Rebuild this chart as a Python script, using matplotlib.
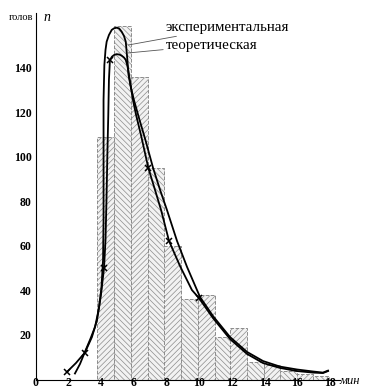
import numpy as np
import matplotlib
matplotlib.use("Agg")
import matplotlib.pyplot as plt

plt.rcParams['font.family'] = ['Liberation Serif', 'DejaVu Serif']
plt.rcParams['hatch.linewidth'] = 0.5

# гистограмма: границы интервалов (мин) и число голов
bin_edges = [3.75, 4.8, 5.8, 6.85, 7.85, 8.9, 9.9, 10.95, 11.9, 12.9, 13.95,
             14.95, 15.95, 16.95, 17.95]
bin_counts = [109, 159, 136, 95, 60, 36, 38, 19, 23, 8, 6.5, 4, 2.5, 1.5]

# экспериментальная кривая
exp_x = [2.39, 2.70, 3.00, 3.31, 3.62, 3.86, 4.01, 4.11, 4.14, 4.14, 4.14, 4.14,
         4.19, 4.26, 4.33, 4.47, 4.64, 4.78, 4.94, 5.09, 5.25, 5.39, 5.50, 5.59,
         5.67, 5.82, 6.00, 6.31, 6.74, 7.17, 7.60, 8.02, 8.64, 9.25, 9.86, 10.05,
         10.84, 11.88, 12.92, 13.90, 14.94, 15.98, 16.96, 17.57, 17.88]
exp_n = [2.7, 7.0, 12.4, 17.8, 23.6, 32.1, 41.1, 53.7, 71.7, 89.7, 107.6, 125.6,
         141.3, 148.1, 151.8, 154.8, 157.1, 157.8, 158.1, 157.8, 156.3, 154.4, 151.8, 144.4,
         136.9, 131.0, 125.6, 117.5, 106.7, 95.1, 85.2, 76.2, 62.2, 50.6, 40.2, 37.0,
         28.5, 19.1, 12.4, 8.3, 5.8, 4.5, 3.6, 3.1, 4.0]

# теоретическая кривая
theo_x = [1.90, 2.45, 3.00, 3.43, 3.74, 3.98, 4.17, 4.26, 4.32, 4.38, 4.43, 4.47,
          4.53, 4.66, 4.78, 4.94, 5.12, 5.25, 5.39, 5.50, 5.59, 5.65, 5.76, 5.96,
          6.13, 6.43, 6.88, 7.29, 7.66, 8.15, 8.82, 9.55, 9.98, 10.84, 11.88, 12.92,
          13.90, 14.94, 15.98, 16.96, 17.57, 17.88]
theo_n = [3.4, 7.4, 12.1, 19.1, 26.7, 38.0, 50.1, 62.7, 80.7, 103.1, 118.9, 134.6,
          143.6, 145.1, 145.8, 146.2, 146.0, 145.5, 144.7, 143.6, 141.3, 139.1, 133.8, 124.9,
          118.9, 109.9, 95.1, 85.2, 76.2, 62.2, 51.0, 40.2, 36.6, 27.6, 18.2, 11.5,
          7.4, 5.2, 3.8, 3.1, 2.9, 3.8]

# отмеченные точки (крестики) на теоретической кривой
mark_x = [1.90, 3.00, 4.17, 4.53, 6.88, 8.15, 9.98]
mark_n = [3.4, 12.1, 50.1, 143.6, 95.1, 62.2, 36.6]

x_ticks = list(range(0, 19, 2))
y_ticks = list(range(20, 141, 20))

fig = plt.figure(figsize=(3.66, 3.89), dpi=100)
ax = fig.add_axes([35.9 / 366, 1 - 379.5 / 389, 303.9 / 366, 366.5 / 389])

# столбцы гистограммы
edges = np.array(bin_edges)
widths = np.diff(edges)
for i, (left, w, h) in enumerate(zip(edges[:-1], widths, bin_counts)):
    ax.bar(left, h, width=w, align='edge', color='#f2f2f2',
           edgecolor='#8c8c8c', linewidth=0.7, linestyle='--',
           hatch='//////' if i % 2 == 0 else '\\\\\\\\\\\\', zorder=1)

ax.plot(exp_x, exp_n, color='black', lw=1.3, zorder=3)
ax.plot(theo_x, theo_n, color='black', lw=1.3, zorder=3)
ax.plot(mark_x, mark_n, 'x', color='black', ms=4.5, mew=1.1, zorder=4)

# подписи кривых
ax.annotate('экспериментальная', xy=(5.64, 150.3), xytext=(7.96, 158.4),
            va='center', ha='left', fontsize=10.8,
            arrowprops=dict(arrowstyle='-', lw=0.6, color='#555555',
                            shrinkA=0, shrinkB=0))
ax.annotate('теоретическая', xy=(5.58, 146.7), xytext=(7.96, 150.3),
            va='center', ha='left', fontsize=10.8,
            arrowprops=dict(arrowstyle='-', lw=0.6, color='#555555',
                            shrinkA=0, shrinkB=0))

ax.text(-0.18, 162.5, 'голов', ha='right', va='center', fontsize=7.5, clip_on=False)
ax.text(0.45, 162.5, 'n', ha='left', va='center', fontsize=10, style='italic',
        clip_on=False)
ax.text(18.6, -0.8, 'мин', ha='left', va='center', fontsize=9, style='italic',
        clip_on=False)

ax.set_xlim(0, 18.6)
ax.set_ylim(0, 164.7)
ax.set_xticks(x_ticks)
ax.set_yticks(y_ticks)
ax.tick_params(length=0, labelsize=8.5)
ax.tick_params(axis='x', pad=-2)
ax.tick_params(axis='y', pad=3)
for lab in ax.get_xticklabels() + ax.get_yticklabels():
    lab.set_fontweight('bold')

ax.spines['top'].set_visible(False)
ax.spines['right'].set_visible(False)
ax.spines['left'].set_linewidth(0.8)
ax.spines['bottom'].set_linewidth(0.8)
ax.patch.set_visible(False)

plt.savefig('out.png', dpi=100)
